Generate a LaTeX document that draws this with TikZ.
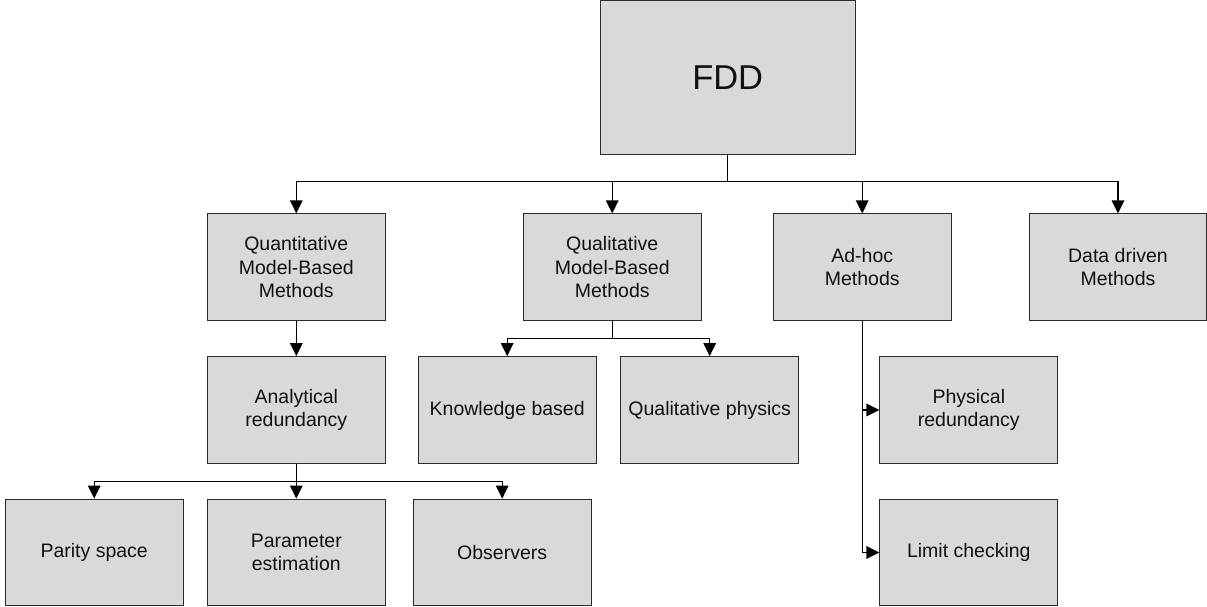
\documentclass[tikz,border=0pt]{standalone}
\usepackage{fontspec}
\setmainfont{Liberation Sans}
\usetikzlibrary{arrows.meta}
\definecolor{boxfill}{HTML}{D9D9D9}
\definecolor{boxline}{HTML}{2B2B2B}
\definecolor{inkc}{HTML}{111111}
\begin{document}
\begin{tikzpicture}[x=1pt,y=-1pt,
  block/.style={draw=boxline, line width=1pt, fill=boxfill, text=inkc,
    minimum width=177.7pt, minimum height=106.7pt, inner sep=0pt,
    align=center, font=\fontsize{19.5pt}{23.3pt}\selectfont},
  rootblock/.style={block, minimum width=255.3pt, minimum height=153pt,
    font=\fontsize{34.5pt}{40pt}\selectfont},
  link/.style={draw=black, line width=1.2pt,
    -{Triangle[length=13pt,width=12.5pt]}}]
\useasboundingbox (0,0) rectangle (1207,607);

% top level
\node[rootblock] (fdd) at (727.7,77.5) {FDD};

% first level
\node[block] (quant) at (296.3,267.3) {Quantitative\\Model-Based\\Methods};
\node[block] (qual)  at (612.2,267.3) {Qualitative\\Model-Based\\Methods};
\node[block] (adhoc) at (862.2,267.3) {Ad-hoc\\Methods};
\node[block] (data)  at (1118,267.3) {Data driven\\Methods};

% second level
\node[block] (anal)  at (296.3,410) {Analytical\\redundancy};
\node[block] (know)  at (507.2,410) {Knowledge based};
\node[block] (qphys) at (709.7,410) {Qualitative physics};
\node[block] (phys)  at (968.8,410) {Physical\\redundancy};

% third level
\node[block] (parity) at (94.2,552.5) {Parity space};
\node[block] (param)  at (296.3,552.5) {Parameter\\estimation};
\node[block] (obs)    at (502.2,552.5) {Observers};
\node[block] (limit)  at (968.8,552.5) {Limit checking};

% connectors
\foreach \t in {quant,qual,adhoc,data}
  \draw[link] (fdd.south) -- ++(0,27) -| (\t.north);
\draw[link] (quant.south) -- (anal.north);
\foreach \t in {know,qphys}
  \draw[link] (qual.south) -- ++(0,17.3) -| (\t.north);
\foreach \t in {parity,param,obs}
  \draw[link] (anal.south) -- ++(0,17.4) -| (\t.north);
\draw[link] (adhoc.south) |- (phys.west);
\draw[link] (adhoc.south) |- (limit.west);
\end{tikzpicture}
\end{document}
